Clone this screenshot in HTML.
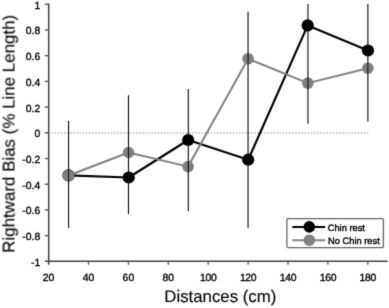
<!DOCTYPE html>
<html><head><meta charset="utf-8"><title>chart</title>
<style>
html,body{margin:0;padding:0;background:#fff;}
svg{display:block;filter:grayscale(1);}
text{font-family:"Liberation Sans",Arial,Helvetica,sans-serif;fill:#000;text-rendering:geometricPrecision;}
.t{font-size:10.4px;stroke:#000;stroke-width:0.35px;}
.ttl{font-size:16.8px;stroke:#000;stroke-width:0.12px;}
.lg{font-size:9.3px;stroke:#000;stroke-width:0.4px;}
</style></head><body>
<svg width="389" height="308" viewBox="0 0 389 308">
<defs><filter id="soft" x="0" y="0" width="389" height="308" filterUnits="userSpaceOnUse" color-interpolation-filters="sRGB"><feConvolveMatrix order="3" kernelMatrix="0.0144 0.0912 0.0144 0.0912 0.5776 0.0912 0.0144 0.0912 0.0144" divisor="1" edgeMode="duplicate" preserveAlpha="true"/></filter></defs>
<g filter="url(#soft)">
<rect width="389" height="308" fill="#fff"/>
<line x1="51.6" y1="132.95" x2="368.4" y2="132.95" stroke="#777" stroke-width="1" stroke-dasharray="1.2 1.925"/>
<line x1="48.7" y1="3.6" x2="48.7" y2="264.8" stroke="#404040" stroke-width="1.5"/>
<line x1="45" y1="261.2" x2="387.7" y2="261.2" stroke="#404040" stroke-width="1.4"/>
<line x1="44.9" y1="4.25" x2="48.4" y2="4.25" stroke="#555" stroke-width="1.4"/>
<text class="t" x="40.2" y="8.70" text-anchor="end">1</text>
<line x1="44.9" y1="29.96" x2="48.4" y2="29.96" stroke="#555" stroke-width="1.4"/>
<text class="t" x="40.2" y="34.41" text-anchor="end">0.8</text>
<line x1="44.9" y1="55.67" x2="48.4" y2="55.67" stroke="#555" stroke-width="1.4"/>
<text class="t" x="40.2" y="60.12" text-anchor="end">0.6</text>
<line x1="44.9" y1="81.38" x2="48.4" y2="81.38" stroke="#555" stroke-width="1.4"/>
<text class="t" x="40.2" y="85.83" text-anchor="end">0.4</text>
<line x1="44.9" y1="107.09" x2="48.4" y2="107.09" stroke="#555" stroke-width="1.4"/>
<text class="t" x="40.2" y="111.54" text-anchor="end">0.2</text>
<line x1="44.9" y1="132.80" x2="48.4" y2="132.80" stroke="#555" stroke-width="1.4"/>
<text class="t" x="40.2" y="137.25" text-anchor="end">0</text>
<line x1="44.9" y1="158.51" x2="48.4" y2="158.51" stroke="#555" stroke-width="1.4"/>
<text class="t" x="40.2" y="162.96" text-anchor="end">-0.2</text>
<line x1="44.9" y1="184.22" x2="48.4" y2="184.22" stroke="#555" stroke-width="1.4"/>
<text class="t" x="40.2" y="188.67" text-anchor="end">-0.4</text>
<line x1="44.9" y1="209.93" x2="48.4" y2="209.93" stroke="#555" stroke-width="1.4"/>
<text class="t" x="40.2" y="214.38" text-anchor="end">-0.6</text>
<line x1="44.9" y1="235.64" x2="48.4" y2="235.64" stroke="#555" stroke-width="1.4"/>
<text class="t" x="40.2" y="240.09" text-anchor="end">-0.8</text>
<text class="t" x="40.2" y="265.80" text-anchor="end">-1</text>
<text class="t" x="48.60" y="280.6" text-anchor="middle">20</text>
<line x1="88.50" y1="261.2" x2="88.50" y2="264.8" stroke="#555" stroke-width="1.3"/>
<text class="t" x="88.50" y="280.6" text-anchor="middle">40</text>
<line x1="128.40" y1="261.2" x2="128.40" y2="264.8" stroke="#555" stroke-width="1.3"/>
<text class="t" x="128.40" y="280.6" text-anchor="middle">60</text>
<line x1="168.30" y1="261.2" x2="168.30" y2="264.8" stroke="#555" stroke-width="1.3"/>
<text class="t" x="168.30" y="280.6" text-anchor="middle">80</text>
<line x1="208.20" y1="261.2" x2="208.20" y2="264.8" stroke="#555" stroke-width="1.3"/>
<text class="t" x="208.20" y="280.6" text-anchor="middle" style="letter-spacing:-0.3px">100</text>
<line x1="248.10" y1="261.2" x2="248.10" y2="264.8" stroke="#555" stroke-width="1.3"/>
<text class="t" x="248.10" y="280.6" text-anchor="middle" style="letter-spacing:-0.3px">120</text>
<line x1="288.00" y1="261.2" x2="288.00" y2="264.8" stroke="#555" stroke-width="1.3"/>
<text class="t" x="288.00" y="280.6" text-anchor="middle" style="letter-spacing:-0.3px">140</text>
<line x1="327.90" y1="261.2" x2="327.90" y2="264.8" stroke="#555" stroke-width="1.3"/>
<text class="t" x="327.90" y="280.6" text-anchor="middle" style="letter-spacing:-0.3px">160</text>
<line x1="367.80" y1="261.2" x2="367.80" y2="264.8" stroke="#555" stroke-width="1.3"/>
<text class="t" x="367.80" y="280.6" text-anchor="middle" style="letter-spacing:-0.3px">180</text>
<polyline points="68.5,175.4 128.7,177.5 188.2,140.0 248.2,159.7 307.7,25.4 368.0,50.5" fill="none" stroke="#000" stroke-width="2.15" stroke-linejoin="round"/>
<circle cx="68.5" cy="175.4" r="6.1" fill="#000"/>
<circle cx="128.7" cy="177.5" r="6.1" fill="#000"/>
<circle cx="188.2" cy="140.0" r="6.1" fill="#000"/>
<circle cx="248.2" cy="159.7" r="6.1" fill="#000"/>
<circle cx="307.7" cy="25.4" r="6.1" fill="#000"/>
<circle cx="368.0" cy="50.5" r="6.1" fill="#000"/>
<polyline points="68.55,175.5 128.6,152.5 188.1,166.6 248.1,58.7 307.8,83.1 367.9,68.2" fill="none" stroke="#808080" stroke-width="2" stroke-linejoin="round"/>
<circle cx="68.55" cy="175.5" r="5.8" fill="#808080"/>
<circle cx="128.6" cy="152.5" r="5.8" fill="#808080"/>
<circle cx="188.1" cy="166.6" r="5.8" fill="#808080"/>
<circle cx="248.1" cy="58.7" r="5.8" fill="#808080"/>
<circle cx="307.8" cy="83.1" r="5.8" fill="#808080"/>
<circle cx="367.9" cy="68.2" r="5.8" fill="#808080"/>
<line x1="68.55" y1="121.0" x2="68.55" y2="228.0" stroke="#111" stroke-width="1.15"/>
<line x1="128.5" y1="95.2" x2="128.5" y2="214.1" stroke="#111" stroke-width="1.15"/>
<line x1="188.3" y1="89.1" x2="188.3" y2="211.2" stroke="#111" stroke-width="1.15"/>
<line x1="248.05" y1="11.8" x2="248.05" y2="228.1" stroke="#111" stroke-width="1.15"/>
<line x1="307.95" y1="4.0" x2="307.95" y2="123.8" stroke="#111" stroke-width="1.15"/>
<line x1="367.88" y1="4.0" x2="367.88" y2="121.5" stroke="#111" stroke-width="1.15"/>
<rect x="286.9" y="218.7" width="96.5" height="28.9" rx="1" fill="#fff" stroke="#666" stroke-width="1.3"/>
<line x1="292.4" y1="226.9" x2="325.2" y2="226.9" stroke="#000" stroke-width="2"/>
<circle cx="309.3" cy="226.9" r="5.8" fill="#000"/>
<line x1="292.4" y1="240.2" x2="325.2" y2="240.2" stroke="#808080" stroke-width="2"/>
<circle cx="309.3" cy="240.2" r="5.8" fill="#808080"/>
<text class="lg" x="327.7" y="230.9">Chin rest</text>
<text class="lg" x="328.1" y="243.5">No Chin rest</text>
<text class="ttl" x="220.3" y="301.9" text-anchor="middle">Distances (cm)</text>
<text class="ttl" style="font-size:16.93px" transform="translate(14.5,133.8) rotate(-90)" text-anchor="middle">Rightward Bias (% Line Length)</text>
</g></svg></body></html>
